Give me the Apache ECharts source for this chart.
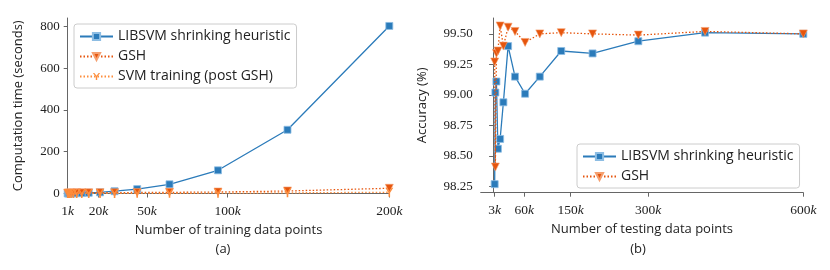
<!DOCTYPE html>
<html><head><meta charset="utf-8">
<script src="https://cdn.jsdelivr.net/npm/echarts@6/dist/echarts.min.js"></script>
<style>html,body{margin:0;padding:0;background:#fff}#c{width:830px;height:270px}</style>
</head><body><div id="c"></div>
<script>
// ---- data (a): training time ----
const trainPoints = [1, 1.5, 2.1, 3.1, 4.5, 6.6, 9.7, 14, 21, 30, 44, 64, 94, 137, 200]; // k
const libsvmTime = [0.1, 0.2, 0.3, 0.5, 0.8, 1.3, 2.2, 3.5, 5.5, 11, 21, 44, 111, 305, 802];
const gshTime = [2, 2, 2, 2.5, 2.5, 3, 3, 3.5, 4, 4, 5, 5.5, 7, 12, 25];
const svmPostTime = [0.1, 0.1, 0.1, 0.1, 0.1, 0.2, 0.2, 0.3, 0.4, 0.5, 0.7, 1, 1.5, 3, 6];
const trainTicks = [1, 20, 50, 100, 200];
const timeTicks = [0, 200, 400, 600, 800];
// ---- data (b): testing accuracy ----
const testPoints = [3, 4.4, 6.4, 9.3, 13.6, 19.9, 29, 42.4, 61.9, 90.3, 131.8, 192.4, 280.9, 410, 600]; // k
const libsvmAcc = [98.27, 99.02, 99.11, 98.56, 98.64, 98.94, 99.40, 99.15, 99.01, 99.15, 99.36, 99.34, 99.44, 99.51, 99.50];
const gshAcc = [99.27, 98.41, 99.34, 99.36, 99.565, 99.40, 99.555, 99.52, 99.43, 99.50, 99.51, 99.50, 99.49, 99.52, 99.50];
const testTicks = [3, 60, 150, 300, 600];
const accTicks = [98.25, 98.50, 98.75, 99.00, 99.25, 99.50];

const names = ['LIBSVM shrinking heuristic', 'GSH', 'SVM training (post GSH)'];
const BLUE = '#2b7bba', ORANGE = '#e6550d', LORANGE = '#fd8d3c';
const SANS = 'Open Sans';
const SERIF = 'Liberation Serif';
const pair = (xs, ys) => xs.map((x, i) => [x, ys[i]]);
const kFmt = v => '{n|' + v + '}{k|k}';
const kRich = {n: {fontFamily: SERIF, fontSize: 13.5, color: '#222'}, k: {fontFamily: SERIF, fontSize: 13.5, fontStyle: 'italic', color: '#222'}};
const axisLine = {lineStyle: {color: '#666', width: 1}};
const tri = 'path://M0,0 L2,0 L5,4.5 L8,0 L10,0 L6,6 L6,11 L4,11 L4,6 Z';
const nameStyle = {fontFamily: SANS, fontSize: 13, color: '#222'};
const legendText = {fontFamily: SANS, fontSize: 14, color: '#222', lineHeight: 15};

const chart = echarts.init(document.getElementById('c'), null, {renderer: 'canvas'});
chart.setOption({
  animation: false,
  textStyle: {fontFamily: SANS},
  grid: [
    {left: 67.7, right: 440.7, top: 18, bottom: 76.5},
    {left: 480.7, right: 26.7, top: 18, bottom: 77.3}
  ],
  title: [
    {text: '(a)', left: 218, top: 238, textAlign: 'center', textStyle: {fontFamily: SANS, fontSize: 13, fontWeight: 'normal', color: '#222'}},
    {text: '(b)', left: 633, top: 238, textAlign: 'center', textStyle: {fontFamily: SANS, fontSize: 13, fontWeight: 'normal', color: '#222'}}
  ],
  xAxis: [
    {gridIndex: 0, type: 'value', min: 1, max: 200, splitLine: {show: false}, axisLine: axisLine,
     axisTick: {customValues: trainTicks, length: 4, lineStyle: {color: '#666'}},
     axisLabel: {customValues: trainTicks, formatter: kFmt, rich: kRich, margin: 11},
     name: 'Number of training data points', nameLocation: 'middle', nameGap: 30, nameTextStyle: nameStyle},
    {gridIndex: 1, type: 'value', min: -24, max: 600, splitLine: {show: false}, axisLine: axisLine,
     axisTick: {customValues: testTicks, length: 4, lineStyle: {color: '#666'}},
     axisLabel: {customValues: testTicks, formatter: kFmt, rich: kRich, margin: 11},
     name: 'Number of testing data points', nameLocation: 'middle', nameGap: 30, nameTextStyle: nameStyle}
  ],
  yAxis: [
    {gridIndex: 0, type: 'value', min: 0, max: 840, splitLine: {show: false}, axisLine: {show: true, lineStyle: {color: '#666'}},
     axisTick: {show: true, customValues: timeTicks, length: 4, lineStyle: {color: '#666'}},
     axisLabel: {customValues: timeTicks, fontFamily: SERIF, fontSize: 13, color: '#222', margin: 8},
     name: 'Computation time (seconds)', nameLocation: 'middle', nameGap: 43, nameTextStyle: nameStyle},
    {gridIndex: 1, type: 'value', min: 98.2, max: 99.63, splitLine: {show: false}, axisLine: {show: true, lineStyle: {color: '#666'}},
     axisTick: {show: true, customValues: accTicks, length: 4, lineStyle: {color: '#666'}},
     axisLabel: {customValues: accTicks, formatter: v => v.toFixed(2), fontFamily: SERIF, fontSize: 13, color: '#222', margin: 8},
     name: 'Accuracy (%)', nameLocation: 'middle', nameGap: 52, nameTextStyle: nameStyle}
  ],
  legend: [
    {data: names, orient: 'vertical', left: 74, top: 24, itemWidth: 33, itemHeight: 9, itemGap: 5,
     padding: [5, 6, 4, 5], borderColor: '#ccc', borderWidth: 1, borderRadius: 3, backgroundColor: '#fff',
     textStyle: legendText},
    {data: names.slice(0, 2), orient: 'vertical', left: 577, top: 144, itemWidth: 33, itemHeight: 9, itemGap: 5,
     padding: [5, 6, 4, 5], borderColor: '#ccc', borderWidth: 1, borderRadius: 3, backgroundColor: '#fff',
     textStyle: legendText}
  ],
  series: [
    {name: names[0], type: 'line', xAxisIndex: 0, yAxisIndex: 0, data: pair(trainPoints, libsvmTime),
     symbol: 'rect', symbolSize: 7, lineStyle: {color: BLUE, width: 1.3}, itemStyle: {color: BLUE, borderColor: '#8dbde3', borderWidth: 0.8}, z: 3},
    {name: names[1], type: 'line', xAxisIndex: 0, yAxisIndex: 0, data: pair(trainPoints, gshTime),
     symbol: 'triangle', symbolRotate: 180, symbolSize: 8, lineStyle: {color: ORANGE, width: 1.3, type: [1.5, 2]}, itemStyle: {color: ORANGE, borderColor: '#f5a070', borderWidth: 0.6}, z: 4},
    {name: names[2], type: 'line', xAxisIndex: 0, yAxisIndex: 0, data: pair(trainPoints, svmPostTime),
     symbol: tri, symbolSize: [8, 9], lineStyle: {color: LORANGE, width: 1.3, type: [1.5, 2]}, itemStyle: {color: LORANGE}, z: 5},
    {name: names[0], type: 'line', xAxisIndex: 1, yAxisIndex: 1, data: pair(testPoints, libsvmAcc),
     symbol: 'rect', symbolSize: 7, lineStyle: {color: BLUE, width: 1.3}, itemStyle: {color: BLUE, borderColor: '#8dbde3', borderWidth: 0.8}, z: 3},
    {name: names[1], type: 'line', xAxisIndex: 1, yAxisIndex: 1, data: pair(testPoints, gshAcc),
     symbol: 'triangle', symbolRotate: 180, symbolSize: 8, lineStyle: {color: ORANGE, width: 1.3, type: [1.5, 2]}, itemStyle: {color: ORANGE, borderColor: '#f5a070', borderWidth: 0.6}, z: 4}
  ]
});
</script></body></html>
